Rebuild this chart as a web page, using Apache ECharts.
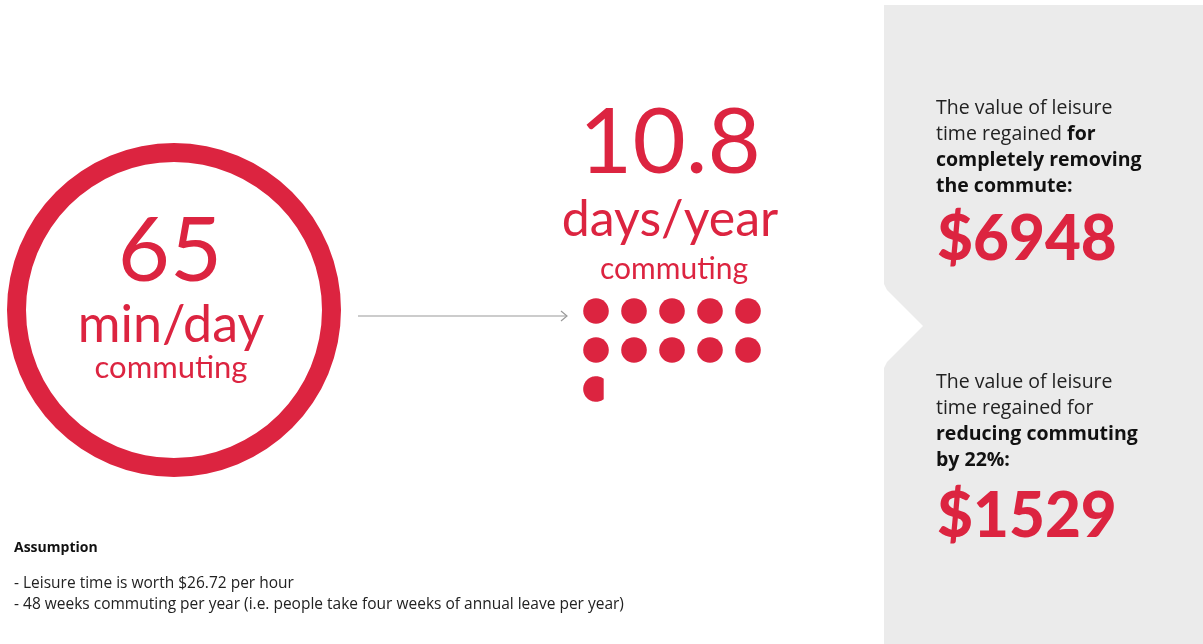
<!DOCTYPE html>
<html><head><meta charset="utf-8">
<script src="https://cdn.jsdelivr.net/npm/echarts@6/dist/echarts.min.js"></script>
<style>html,body{margin:0;padding:0;background:#fff}#c{width:1203px;height:644px}</style>
</head><body><div id="c"></div>
<script>
// ---- data ----
const minutesPerDay = 65;
const daysPerYear = 10.8;
const dotValues = [1, 1, 1, 1, 1, 1, 1, 1, 1, 1, 0.8];
const dotCols   = [0, 1, 2, 3, 4, 0, 1, 2, 3, 4, 0];
const dotRows   = [0, 0, 0, 0, 0, 1, 1, 1, 1, 1, 2];
const savingFull = 6948;
const savingReduced = 1529;
const reductionPct = 22;
const leisureRate = 26.72;
const weeksPerYear = 48;

const RED = '#dc2440';
const FONT = 'Lato';
const SANS = '"Open Sans", "Noto Sans", sans-serif';
const chart = echarts.init(document.getElementById('c'), null, {renderer: 'canvas'});

const dotData = dotValues.map((v, i) => [dotCols[i], dotRows[i], v]);

function txt(x, y, text, size, opts) {
  return {
    type: 'text', x: x, y: y, z: 10,
    style: Object.assign({
      text: text, fontFamily: FONT, fontSize: size, fill: RED,
      align: 'center', verticalAlign: 'middle', fontWeight: 400
    }, opts || {})
  };
}

const panelRich = {
  n: {fontFamily: SANS, fontSize: 19.5, fill: '#222', fontWeight: 400, lineHeight: 26},
  b: {fontFamily: SANS, fontSize: 19.5, fill: '#111', fontWeight: 700, lineHeight: 26}
};

chart.setOption({
  animation: false,
  backgroundColor: '#fff',
  grid: {left: 577, top: 291.5, width: 190, height: 117},
  xAxis: {type: 'value', min: -0.5, max: 4.5, show: false},
  yAxis: {type: 'value', min: -0.5, max: 2.5, inverse: true, show: false},
  graphic: [
    {type: 'polygon', z: 0, silent: true,
      shape: {points: [[884,5],[1203,5],[1203,644],[884,644],[884,368],[887,362],[923,326],[887,290],[884,284]]},
      style: {fill: '#ebebeb'}},
    {type: 'line', z: 5, shape: {x1: 358, y1: 316, x2: 567, y2: 316}, style: {stroke: '#9a9a9a', lineWidth: 1.2}},
    {type: 'polyline', z: 5, shape: {points: [[561,311],[567,316],[561,321]]}, style: {stroke: '#9a9a9a', lineWidth: 1.2, fill: null}},
    txt(170, 252, String(minutesPerDay), 90),
    txt(171, 325, 'min/day', 52),
    txt(171, 368, 'commuting', 31),
    txt(670, 143, String(daysPerYear), 92),
    txt(670, 220, 'days/year', 50),
    txt(674, 269, 'commuting', 30),
    {type: 'text', x: 936, y: 95, z: 10, style: {
      text: '{n|The value of leisure}\n{n|time regained }{b|for}\n{b|completely removing}\n{b|the commute:}',
      rich: panelRich, align: 'left', verticalAlign: 'top'}},
    txt(937, 240, '$' + savingFull, 62, {align: 'left', fontWeight: 900}),
    {type: 'text', x: 936, y: 369, z: 10, style: {
      text: '{n|The value of leisure}\n{n|time regained for}\n{b|reducing commuting}\n{b|by ' + reductionPct + '%:}',
      rich: panelRich, align: 'left', verticalAlign: 'top'}},
    txt(937, 517, '$' + savingReduced, 62, {align: 'left', fontWeight: 900}),
    txt(14, 548, 'Assumption', 14, {align: 'left', fill: '#111', fontWeight: 700, fontFamily: SANS}),
    txt(14, 584, '- Leisure time is worth $' + leisureRate + ' per hour', 15.5, {align: 'left', fill: '#222', fontWeight: 400, fontFamily: SANS}),
    txt(14, 605, '- ' + weeksPerYear + ' weeks commuting per year (i.e. people take four weeks of annual leave per year)', 15.5, {align: 'left', fill: '#222', fontWeight: 400, fontFamily: SANS})
  ],
  series: [
    {
      type: 'pie', silent: true, center: [174, 310], radius: [148, 167],
      label: {show: false}, labelLine: {show: false},
      itemStyle: {color: RED},
      data: [{value: minutesPerDay, name: 'min/day'}]
    },
    {
      type: 'custom', silent: true,
      renderItem: function (params, api) {
        const c = api.coord([api.value(0), api.value(1)]);
        const r = 12.8;
        const f = api.value(2);
        if (f >= 1) {
          return {type: 'circle', shape: {cx: c[0], cy: c[1], r: r}, style: {fill: RED}};
        }
        const dx = r * (2 * f - 1);
        const a = Math.acos(dx / r);
        const pts = [];
        for (let k = 0; k <= 60; k++) {
          const t = a + (2 * Math.PI - 2 * a) * k / 60;
          pts.push([c[0] + r * Math.cos(t), c[1] - r * Math.sin(t)]);
        }
        return {type: 'polygon', shape: {points: pts}, style: {fill: RED}};
      },
      data: dotData
    }
  ]
});
</script>
</body></html>
